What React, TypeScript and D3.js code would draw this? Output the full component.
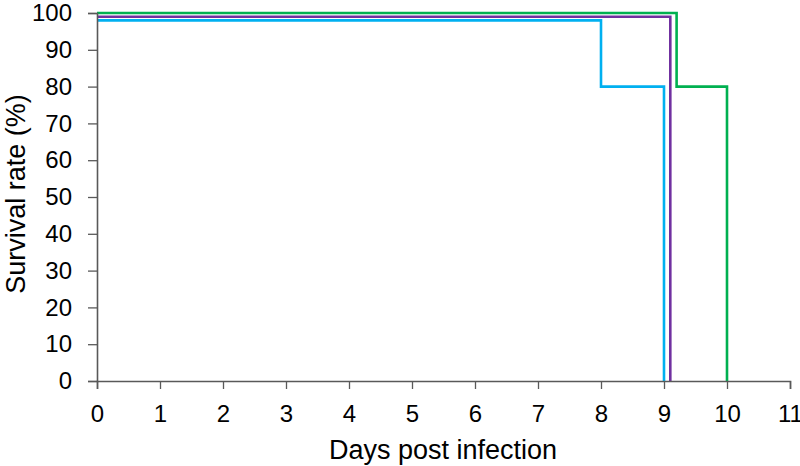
import React, { useRef, useEffect } from 'react';
import * as d3 from 'd3';

const xTicks = [0, 1, 2, 3, 4, 5, 6, 7, 8, 9, 10, 11];
const yTicks = [0, 10, 20, 30, 40, 50, 60, 70, 80, 90, 100];

// survival curves: day at which the value starts, survival %
const blueDays = [0, 8, 9];
const blueSurvival = [98, 80, 0];
const purpleDays = [0, 9.1];
const purpleSurvival = [99, 0];
const greenDays = [0, 9.2, 10];
const greenSurvival = [100, 80, 0];

const series = [
  { name: 'blue', days: blueDays, values: blueSurvival, color: '#00B0F0' },
  { name: 'purple', days: purpleDays, values: purpleSurvival, color: '#7030A0' },
  { name: 'green', days: greenDays, values: greenSurvival, color: '#00B050' },
];

const App: React.FC = () => {
  const svgRef = useRef<SVGSVGElement | null>(null);

  useEffect(() => {
    const width = 800;
    const height = 466;
    const margin = { top: 13, right: 10, bottom: 85, left: 97 };
    const innerW = 693;
    const innerH = height - margin.top - margin.bottom;

    const svg = d3.select(svgRef.current!);
    svg.selectAll('*').remove();
    svg.attr('width', width).attr('height', height);

    const g = svg.append('g').attr('transform', `translate(${margin.left},${margin.top})`);

    const x = d3.scaleLinear().domain([0, 11]).range([0, innerW]);
    const y = d3.scaleLinear().domain([0, 100]).range([innerH, 0]);

    const axisColor = '#595959';
    const font = 'Arial, "Liberation Sans", sans-serif';

    // series
    series.forEach((s) => {
      const pts = s.days.map((d, i) => [d, s.values[i]] as [number, number]);
      const line = d3.line<[number, number]>()
        .x((d) => x(d[0]))
        .y((d) => y(d[1]))
        .curve(d3.curveStepAfter);
      g.append('path')
        .datum(pts)
        .attr('d', line)
        .attr('fill', 'none')
        .attr('stroke', s.color)
        .attr('stroke-width', 2.6)
        .attr('stroke-linejoin', 'miter');
    });

    // y axis
    const yAxis = g.append('g').call(
      d3.axisLeft(y).tickValues(yTicks).tickSize(9).tickPadding(16).tickFormat(d3.format('d'))
    );
    yAxis.select('.domain').attr('stroke', axisColor).attr('stroke-width', 1.6);
    yAxis.selectAll('.tick line').attr('stroke', axisColor).attr('stroke-width', 1.3);
    yAxis.selectAll('.tick text')
      .attr('fill', '#000')
      .style('font-family', font)
      .style('font-size', '24px');

    // x axis
    const xAxis = g.append('g').attr('transform', `translate(0,${innerH})`).call(
      d3.axisBottom(x).tickValues(xTicks).tickSize(8).tickPadding(16).tickFormat(d3.format('d'))
    );
    xAxis.select('.domain').attr('stroke', axisColor).attr('stroke-width', 1.6);
    xAxis.selectAll('.tick line').attr('stroke', axisColor).attr('stroke-width', 1.3);
    xAxis.selectAll('.tick text')
      .attr('fill', '#000')
      .style('font-family', font)
      .style('font-size', '24px');

    // axis titles
    svg.append('text')
      .attr('x', 443)
      .attr('y', 459)
      .attr('text-anchor', 'middle')
      .style('font-family', font)
      .style('font-size', '27px')
      .attr('fill', '#000')
      .text('Days post infection');

    svg.append('text')
      .attr('transform', `translate(25,194) rotate(-90)`)
      .attr('text-anchor', 'middle')
      .style('font-family', font)
      .style('font-size', '27px')
      .attr('fill', '#000')
      .text('Survival rate (%)');
  }, []);

  return (
    <svg
      ref={svgRef}
      style={{ position: 'absolute', left: 0, top: 0, background: '#fff' }}
    ></svg>
  );
};

export default App;
